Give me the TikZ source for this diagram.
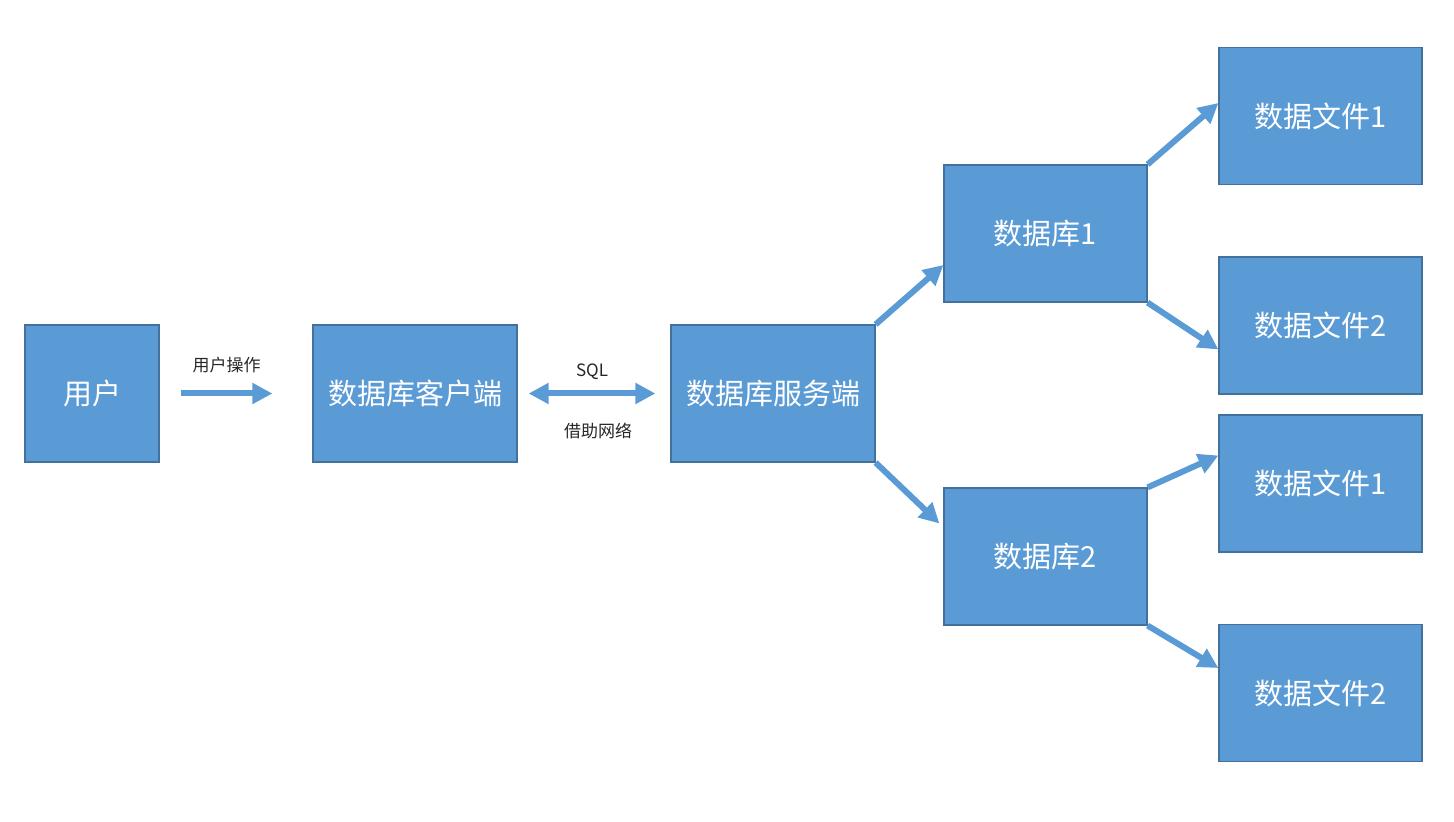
\documentclass[tikz,border=0pt]{standalone}
\usepackage{fontspec}
\setmainfont{Noto Sans CJK SC}
\usetikzlibrary{arrows.meta, positioning, calc}
\definecolor{boxblue}{HTML}{5B9BD5}
\definecolor{boxedge}{HTML}{41719C}

\begin{document}
\begin{tikzpicture}[x=0.5pt, y=-0.5pt,
  box/.style={draw=boxedge, fill=boxblue, line width=0.6pt, text=white,
    font=\fontsize{14.5}{16}\selectfont, minimum height=68.5pt, inner sep=0pt},
  link/.style={draw=boxblue, line width=3pt, -{Triangle[length=10pt,width=10pt]}},
  both/.style={draw=boxblue, line width=3pt, {Triangle[length=10pt,width=10pt]}-{Triangle[length=10pt,width=10pt]}},
  small/.style={font=\fontsize{8.5}{10}\selectfont, text=black!85}]
\useasboundingbox (0,0) rectangle (1454,822);
% boxes
\node[box, minimum width=67pt] (user) at (92,393.5) {用户};
\node[box, minimum width=102pt] (client) at (415,393.5) {数据库客户端};
\node[box, minimum width=102pt] (server) at (773,393.5) {数据库服务端};
\node[box, minimum width=101.5pt] (db1) at (1045.5,233.5) {数据库1};
\node[box, minimum width=101.5pt] (db2) at (1045.5,556.5) {数据库2};
\node[box, minimum width=101.5pt] (file11) at (1320.5,116) {数据文件1};
\node[box, minimum width=101.5pt] (file12) at (1320.5,325.5) {数据文件2};
\node[box, minimum width=101.5pt] (file21) at (1320.5,483.5) {数据文件1};
\node[box, minimum width=101.5pt] (file22) at (1320.5,693) {数据文件2};
% arrows
\draw[link] ([xshift=10.5pt]user.east) -- ([xshift=-20pt]client.west)
  node[small, midway, above=5.5pt] (op) {用户操作};
\draw[both] ([xshift=5.5pt]client.east) -- ([xshift=-7.5pt]server.west)
  node[small, midway, above=2pt] (sql) {SQL}
  node[small, midway, below=10pt, xshift=3pt] (net) {借助网络};
\draw[link] (server.north east) -- ([yshift=-15.75pt]db1.west);
\draw[link] (server.south east) -- ([xshift=-2pt, yshift=16.5pt]db2.west);
\draw[link] (db1.north east) -- ([yshift=6.5pt]file11.west);
\draw[link] (db1.south east) -- ([yshift=-12pt]file12.west);
\draw[link] (db2.north east) -- ([yshift=14pt]file21.west);
\draw[link] (db2.south east) -- ([yshift=12.5pt]file22.west);
\end{tikzpicture}
\end{document}
